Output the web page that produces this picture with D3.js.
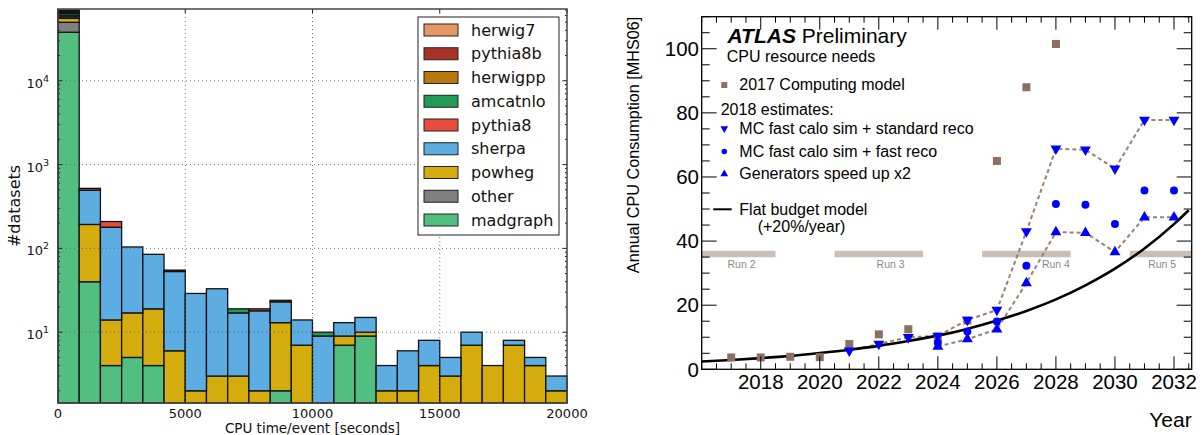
<!DOCTYPE html>
<html>
<head>
<meta charset="utf-8">
<script src="https://cdn.jsdelivr.net/npm/d3@7"></script>
<style>
  body { margin: 0; background: #fff; }
</style>
</head>
<body>
<script>
// ---------- DATA: left panel (stacked histogram, 24 bins over 0..20000 s) ----------
var nBins = 24;
var cpuMax = 20000;

var madgraph = [37900, 40, 4, 5, 4, 0, 0, 0, 0, 0, 2, 0, 0, 7, 9, 0, 0, 0, 0, 0, 0, 0, 0, 0];
var other    = [11900, 0, 0, 0, 0, 0, 0, 0, 0, 0, 0, 0, 0, 0, 0, 0, 0, 0, 0, 0, 0, 0, 0, 0];
var powheg   = [5700, 153, 10, 12, 15, 6, 2, 3, 3, 2, 11, 7, 0, 2, 1, 2, 2, 4, 3, 7, 4, 7, 4, 2];
var sherpa   = [2500, 302, 165, 87, 66, 47, 27, 30, 14, 16, 10, 7, 9, 4, 5, 2, 4, 4, 2, 3, 0, 1, 1, 1];
var pythia8  = [2700, 25, 30, 0, 0, 0, 0, 0, 0, 1, 0, 0, 0, 0, 0, 0, 0, 0, 0, 0, 0, 0, 0, 0];
var amcatnlo = [3000, 0, 0, 0, 0, 0, 0, 0, 2, 0, 0, 0, 1, 0, 0, 0, 0, 0, 0, 0, 0, 0, 0, 0];
var herwigpp = [2000, 0, 0, 0, 0, 0, 0, 0, 0, 0, 0, 0, 0, 0, 0, 0, 0, 0, 0, 0, 0, 0, 0, 0];
var pythia8b = [2000, 0, 0, 0, 0, 2, 0, 0, 0, 0, 1, 0, 0, 0, 0, 0, 0, 0, 0, 0, 0, 0, 0, 0];
var herwig7  = [2000, 0, 0, 0, 0, 0, 0, 0, 0, 0, 0, 0, 0, 0, 0, 0, 0, 0, 0, 0, 0, 0, 0, 0];

// stacking order, bottom -> top
var generators = ["madgraph", "other", "powheg", "sherpa", "pythia8", "amcatnlo", "herwigpp", "pythia8b", "herwig7"];
var genValues = {
  madgraph: madgraph, other: other, powheg: powheg, sherpa: sherpa, pythia8: pythia8,
  amcatnlo: amcatnlo, herwigpp: herwigpp, pythia8b: pythia8b, herwig7: herwig7
};
var genColors = {
  herwig7: "#e59866", pythia8b: "#a93226", herwigpp: "#b9770e", amcatnlo: "#229954",
  pythia8: "#e74c3c", sherpa: "#5dade2", powheg: "#d4ac0d", other: "#808080", madgraph: "#52be80"
};
var cpuTicks = [0, 5000, 10000, 15000, 20000];
var countTicks = [1, 2, 3, 4]; // powers of ten

// ---------- DATA: right panel (ATLAS CPU needs) ----------
var model2017Years = [2017, 2018, 2019, 2020, 2021, 2022, 2023, 2024, 2025, 2026, 2027, 2028];
var model2017      = [3.7, 3.7, 3.9, 3.8, 7.9, 10.9, 12.5, 10.2, 15.2, 65, 88, 101.5];

var stdRecoYears = [2021, 2022, 2023, 2024, 2025, 2026, 2027, 2028, 2029, 2030, 2031, 2032];
var stdReco      = [5.8, 7.9, 10.0, 10.4, 15.4, 18.5, 43.0, 68.8, 68.5, 62.6, 77.8, 77.8];

var fastRecoYears = [2024, 2025, 2026, 2027, 2028, 2029, 2030, 2031, 2032];
var fastReco      = [8.3, 11.8, 14.9, 32.3, 51.6, 51.3, 45.3, 55.8, 55.8];

var genSpeedYears = [2024, 2025, 2026, 2027, 2028, 2029, 2030, 2031, 2032];
var genSpeed      = [7.1, 9.4, 12.5, 26.9, 42.8, 42.6, 36.6, 47.4, 47.4];

var flatYears  = [2016, 2017, 2018, 2019, 2020, 2021, 2022, 2023, 2024, 2025, 2026, 2027, 2028, 2029, 2030, 2031, 2032, 2032.5];
var flatBudget = [2.45, 2.9, 3.5, 4.2, 5.1, 6.1, 7.3, 8.8, 10.5, 12.6, 15.2, 18.2, 21.8, 26.2, 31.4, 37.7, 45.3, 49.6];

var runNames     = ["Run 2", "Run 3", "Run 4", "Run 5"];
var runStart     = [2016, 2020.5, 2025.5, 2030.5];
var runEnd       = [2018.5, 2023.5, 2028.5, 2032.6];
var runLabelYear = [2017.35, 2022.4, 2028.0, 2031.6];

var yearTicks = [2018, 2020, 2022, 2024, 2026, 2028, 2030, 2032];
var cpuNeedTicks = [0, 20, 40, 60, 80, 100];

// ---------- SVG ----------
var W = 1203, H = 435;
var svg = d3.select("body").append("svg")
  .attr("width", W).attr("height", H)
  .style("display", "block");

// =====================================================================
// LEFT PANEL
// =====================================================================
var mplFont = "DejaVu Sans, sans-serif";
var L = { x0: 58, x1: 567, y0: 9, y1: 403 };

var xL = d3.scaleLinear().domain([0, cpuMax]).range([L.x0, L.x1]);
var yL = d3.scaleLog().domain([1.43, 71800]).range([L.y1, L.y0]).clamp(true);

var binEdges = d3.range(nBins + 1).map(i => i * cpuMax / nBins);

var rows = d3.range(nBins).map(function (i) {
  var r = { lo: binEdges[i], hi: binEdges[i + 1] };
  generators.forEach(g => { r[g] = genValues[g][i]; });
  return r;
});
var stacked = d3.stack().keys(generators)(rows);

var gL = svg.append("g");

stacked.forEach(function (layer) {
  gL.append("g").selectAll("rect")
    .data(layer.filter(d => d[1] > d[0]))
    .enter()
    .append("rect")
    .attr("x", d => xL(d.data.lo))
    .attr("width", d => xL(d.data.hi) - xL(d.data.lo))
    .attr("y", d => yL(d[1]))
    .attr("height", d => yL(Math.max(d[0], 1.43)) - yL(d[1]))
    .attr("fill", genColors[layer.key])
    .attr("stroke", "#111")
    .attr("stroke-width", 1.3);
});

// grid (drawn over the bars, dotted)
cpuTicks.filter(t => t > 0 && t < cpuMax).forEach(function (t) {
  gL.append("line")
    .attr("x1", xL(t)).attr("x2", xL(t))
    .attr("y1", L.y0).attr("y2", L.y1)
    .attr("stroke", "#555").attr("stroke-width", 0.8)
    .attr("stroke-dasharray", "1,3");
});
countTicks.forEach(function (p) {
  var y = yL(Math.pow(10, p));
  gL.append("line")
    .attr("x1", L.x0).attr("x2", L.x1)
    .attr("y1", y).attr("y2", y)
    .attr("stroke", "#555").attr("stroke-width", 0.8)
    .attr("stroke-dasharray", "1,3");
});

// ticks (inward, all four sides)
cpuTicks.forEach(function (t) {
  var x = xL(t);
  gL.append("line").attr("x1", x).attr("x2", x).attr("y1", L.y1).attr("y2", L.y1 - 4).attr("stroke", "#222");
  gL.append("line").attr("x1", x).attr("x2", x).attr("y1", L.y0).attr("y2", L.y0 + 4).attr("stroke", "#222");
  gL.append("text")
    .text(t)
    .attr("x", x).attr("y", 418)
    .attr("text-anchor", "middle")
    .attr("font-family", mplFont).attr("font-size", "13px").attr("fill", "#111");
});

var minorVals = [];
[0, 1, 2, 3, 4].forEach(function (p) {
  d3.range(1, 10).forEach(function (m) {
    var v = m * Math.pow(10, p);
    if (v > 1.43 && v < 71800) minorVals.push({ v: v, major: m === 1 });
  });
});
minorVals.forEach(function (d) {
  var y = yL(d.v), len = d.major ? 4 : 2;
  gL.append("line").attr("x1", L.x0).attr("x2", L.x0 + len).attr("y1", y).attr("y2", y).attr("stroke", "#222");
  gL.append("line").attr("x1", L.x1).attr("x2", L.x1 - len).attr("y1", y).attr("y2", y).attr("stroke", "#222");
});

countTicks.forEach(function (p) {
  var t = gL.append("text")
    .attr("x", 49).attr("y", yL(Math.pow(10, p)) + 7)
    .attr("text-anchor", "end")
    .attr("font-family", mplFont).attr("font-size", "13px").attr("fill", "#111");
  t.append("tspan").text("10");
  t.append("tspan").text(p).attr("dy", -6).attr("font-size", "9.5px");
});

// frame
gL.append("rect")
  .attr("x", L.x0).attr("y", L.y0)
  .attr("width", L.x1 - L.x0).attr("height", L.y1 - L.y0)
  .attr("fill", "none").attr("stroke", "#444").attr("stroke-width", 1.5);

// axis labels
gL.append("text")
  .text("CPU time/event [seconds]")
  .attr("x", (L.x0 + L.x1) / 2).attr("y", 433)
  .attr("text-anchor", "middle")
  .attr("font-family", mplFont).attr("font-size", "13.5px").attr("fill", "#111");

gL.append("text")
  .text("#datasets")
  .attr("transform", "translate(20," + ((L.y0 + L.y1) / 2) + ") rotate(-90)")
  .attr("text-anchor", "middle")
  .attr("font-family", mplFont).attr("font-size", "16px").attr("fill", "#111");

// legend
var legL = gL.append("g");
legL.append("rect")
  .attr("x", 418).attr("y", 17).attr("width", 141).attr("height", 218)
  .attr("fill", "#fff").attr("stroke", "#222").attr("stroke-width", 1);
generators.slice().reverse().forEach(function (g, i) {
  var cy = 30 + i * 23.75;
  legL.append("rect")
    .attr("x", 424).attr("y", cy - 6).attr("width", 34).attr("height", 12)
    .attr("fill", genColors[g]).attr("stroke", "#222").attr("stroke-width", 1);
  legL.append("text")
    .text(g)
    .attr("x", 471).attr("y", cy + 5.5)
    .attr("font-family", mplFont).attr("font-size", "16px").attr("fill", "#111");
});

// =====================================================================
// RIGHT PANEL
// =====================================================================
var rootFont = "Liberation Sans, Arial, Helvetica, sans-serif";
var R = { x0: 701.7, x1: 1191.7, y0: 16.7, y1: 369.3 };
var xR = d3.scaleLinear().domain([2016, 2032.6]).range([R.x0, R.x1]);
var yR = d3.scaleLinear().domain([0, 110]).range([R.y1, R.y0]);

var gR = svg.append("g");
var brown = "#8d6e63";
var dashBrown = "#9c7f70";
var blue = "#0000ff";

// run bars
runNames.forEach(function (name, i) {
  gR.append("line")
    .attr("x1", xR(runStart[i])).attr("x2", xR(runEnd[i]))
    .attr("y1", yR(36)).attr("y2", yR(36))
    .attr("stroke", "#c9bfb7").attr("stroke-width", 6.5);
  gR.append("text")
    .text(name)
    .attr("x", xR(runLabelYear[i])).attr("y", yR(31.6))
    .attr("text-anchor", "middle")
    .attr("font-family", rootFont).attr("font-size", "10.5px").attr("fill", "#8a8a8a");
});

// dotted connecting lines
var line = d3.line().x(d => xR(d[0])).y(d => yR(d[1]));
[[stdRecoYears, stdReco], [genSpeedYears, genSpeed]].forEach(function (s) {
  gR.append("path")
    .attr("d", line(d3.zip(s[0], s[1])))
    .attr("fill", "none")
    .attr("stroke", dashBrown).attr("stroke-width", 2)
    .attr("stroke-dasharray", "4,3");
});

// flat budget curve
gR.append("path")
  .attr("d", d3.line().x(d => xR(d[0])).y(d => yR(d[1])).curve(d3.curveMonotoneX)(d3.zip(flatYears, flatBudget)))
  .attr("fill", "none").attr("stroke", "#000").attr("stroke-width", 2.6);

// markers
var sqr = d3.symbol().type(d3.symbolSquare);
var tri = d3.symbol().type(d3.symbolTriangle);
var circ = d3.symbol().type(d3.symbolCircle);

gR.selectAll(".m17").data(d3.zip(model2017Years, model2017)).enter()
  .append("path")
  .attr("d", sqr.size(64)())
  .attr("transform", d => "translate(" + xR(d[0]) + "," + yR(d[1]) + ")")
  .attr("fill", brown);

gR.selectAll(".std").data(d3.zip(stdRecoYears, stdReco)).enter()
  .append("path")
  .attr("d", tri.size(52)())
  .attr("transform", d => "translate(" + xR(d[0]) + "," + yR(d[1]) + ") rotate(180)")
  .attr("fill", blue);

gR.selectAll(".fast").data(d3.zip(fastRecoYears, fastReco)).enter()
  .append("path")
  .attr("d", circ.size(50)())
  .attr("transform", d => "translate(" + xR(d[0]) + "," + yR(d[1]) + ")")
  .attr("fill", blue);

gR.selectAll(".gen").data(d3.zip(genSpeedYears, genSpeed)).enter()
  .append("path")
  .attr("d", tri.size(52)())
  .attr("transform", d => "translate(" + xR(d[0]) + "," + yR(d[1]) + ")")
  .attr("fill", blue);

// frame
gR.append("rect")
  .attr("x", R.x0).attr("y", R.y0)
  .attr("width", R.x1 - R.x0).attr("height", R.y1 - R.y0)
  .attr("fill", "none").attr("stroke", "#000").attr("stroke-width", 1.3);

// x ticks: minor every half year, major every 2 years (top and bottom)
d3.range(2016, 2032.6, 0.5).forEach(function (yr) {
  var x = xR(yr);
  var major = yearTicks.indexOf(yr) >= 0;
  var len = major ? 13 : 6;
  gR.append("line").attr("x1", x).attr("x2", x).attr("y1", R.y1).attr("y2", R.y1 - len).attr("stroke", "#000");
  gR.append("line").attr("x1", x).attr("x2", x).attr("y1", R.y0).attr("y2", R.y0 + len).attr("stroke", "#000");
});
yearTicks.forEach(function (yr) {
  gR.append("text")
    .text(yr)
    .attr("x", xR(yr)).attr("y", 389)
    .attr("text-anchor", "middle")
    .attr("font-family", rootFont).attr("font-size", "20.5px").attr("fill", "#000");
});

// y ticks: minor every 5, major every 20 (left and right)
d3.range(0, 110.1, 5).forEach(function (v) {
  var y = yR(v);
  var major = cpuNeedTicks.indexOf(v) >= 0;
  var len = major ? 15 : 8;
  gR.append("line").attr("x1", R.x0).attr("x2", R.x0 + len).attr("y1", y).attr("y2", y).attr("stroke", "#000");
  gR.append("line").attr("x1", R.x1).attr("x2", R.x1 - len).attr("y1", y).attr("y2", y).attr("stroke", "#000");
});
cpuNeedTicks.forEach(function (v) {
  gR.append("text")
    .text(v)
    .attr("x", 699).attr("y", yR(v) + 7.3)
    .attr("text-anchor", "end")
    .attr("font-family", rootFont).attr("font-size", "20.5px").attr("fill", "#000");
});

// axis titles
gR.append("text")
  .text("Year")
  .attr("x", R.x1).attr("y", 427)
  .attr("text-anchor", "end")
  .attr("font-family", rootFont).attr("font-size", "21px").attr("fill", "#000");

gR.append("text")
  .text("Annual CPU Consumption [MHS06]")
  .attr("transform", "translate(639," + R.y0 + ") rotate(-90)")
  .attr("text-anchor", "end")
  .attr("font-family", rootFont).attr("font-size", "16.2px").attr("fill", "#000");

// legend / labels
var atlas = gR.append("text")
  .attr("x", 727.5).attr("y", 43.3)
  .attr("font-family", rootFont).attr("font-size", "21px").attr("fill", "#000");
atlas.append("tspan").text("ATLAS").attr("font-weight", "bold").attr("font-style", "italic");
atlas.append("tspan").text(" Preliminary");

function legText(str, x, y) {
  gR.append("text")
    .text(str)
    .attr("x", x).attr("y", y)
    .attr("font-family", rootFont).attr("font-size", "16px").attr("fill", "#000");
}
legText("CPU resource needs", 726.7, 61.7);

gR.append("path").attr("d", sqr.size(36)()).attr("transform", "translate(724.3,85)").attr("fill", brown);
legText("2017 Computing model", 739.3, 89.5);

legText("2018 estimates:", 720.7, 115.2);

gR.append("path").attr("d", tri.size(26)()).attr("transform", "translate(724.3,128.5) rotate(180)").attr("fill", blue);
legText("MC fast calo sim + standard reco", 739.3, 134.3);

gR.append("path").attr("d", circ.size(24)()).attr("transform", "translate(724.3,151.5)").attr("fill", blue);
legText("MC fast calo sim + fast reco", 739.3, 156.8);

gR.append("path").attr("d", tri.size(26)()).attr("transform", "translate(724.3,174)").attr("fill", blue);
legText("Generators speed up x2", 739.3, 179);

gR.append("line").attr("x1", 713.3).attr("x2", 731.7).attr("y1", 209.3).attr("y2", 209.3)
  .attr("stroke", "#000").attr("stroke-width", 2);
legText("Flat budget model", 739.3, 214.5);
legText("(+20%/year)", 757.7, 231.5);
</script>
</body>
</html>
